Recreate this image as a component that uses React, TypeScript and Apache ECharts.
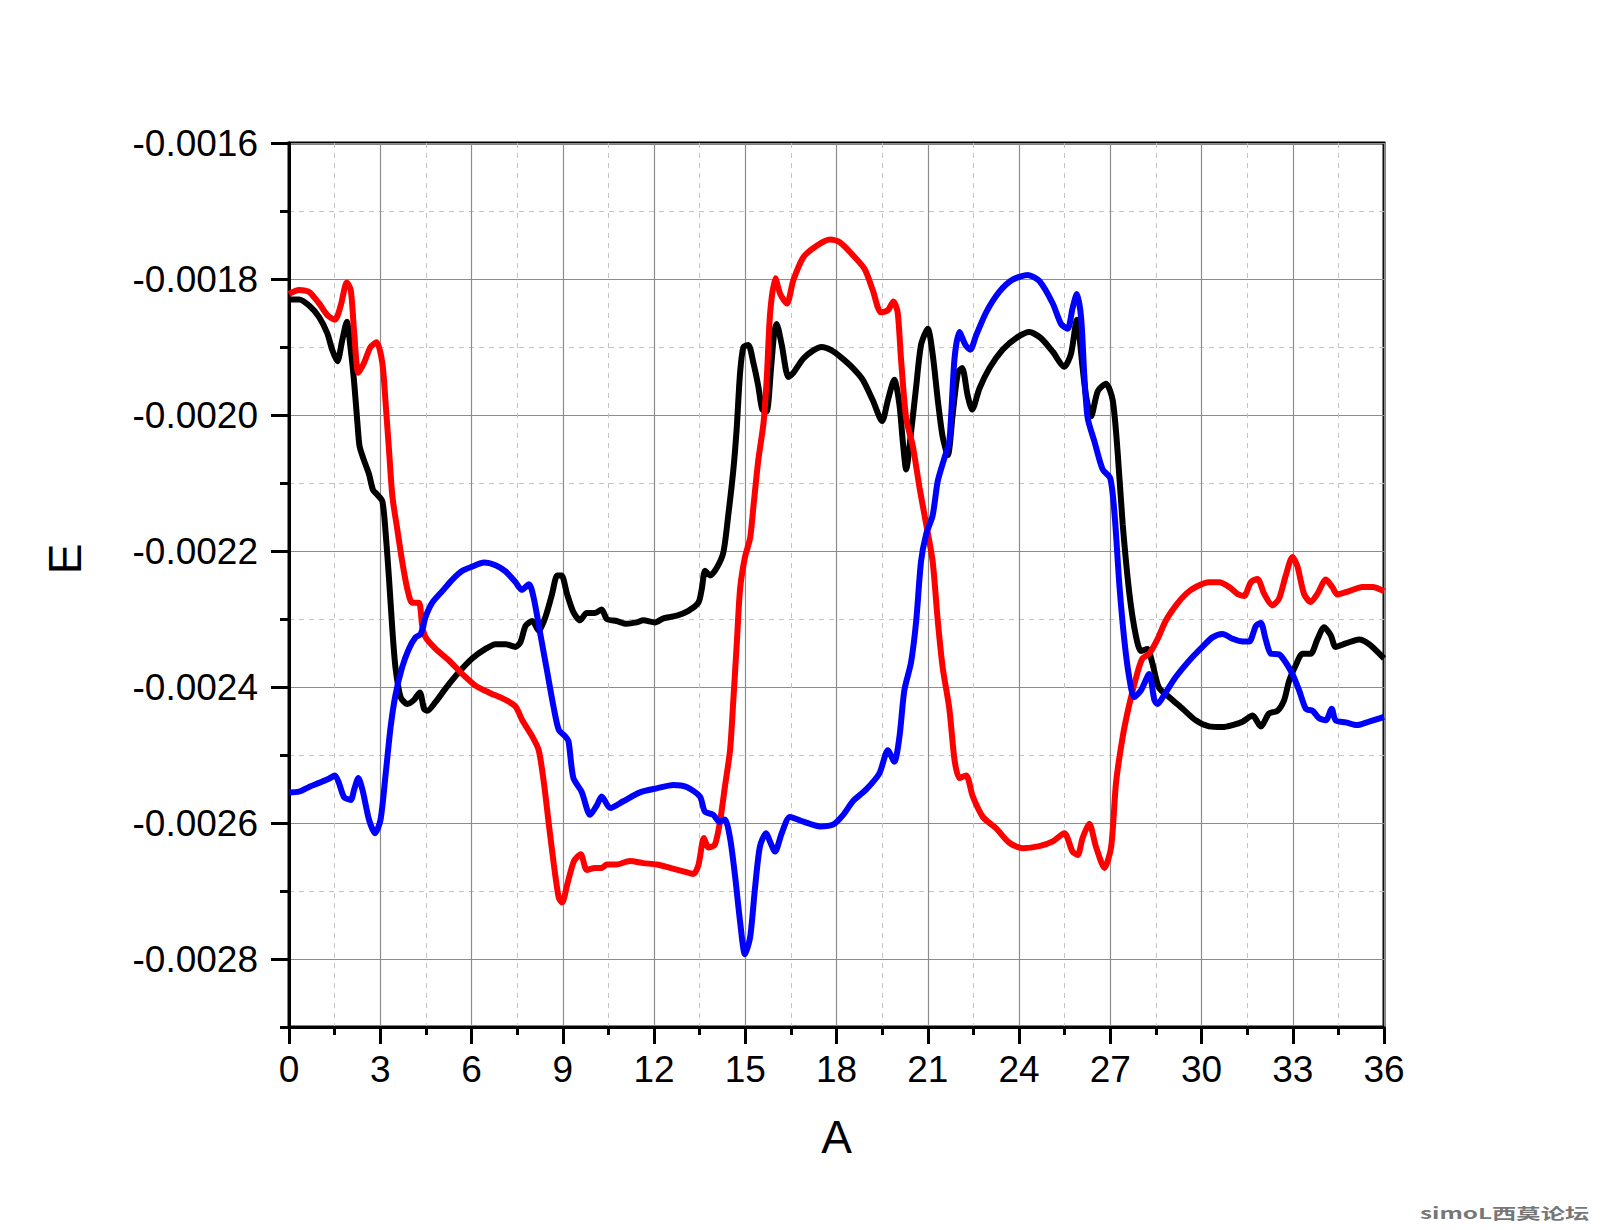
import React, { useEffect, useRef } from 'react';
import * as echarts from 'echarts';

// ---- axis ticks ----
const xMin = 0;
const xMax = 36;
const xStep = 3;
const yMin = -0.0029;
const yMax = -0.0016;
const yMinorStep = 0.0001;
// major y ticks counted from the top on an auxiliary inverse axis (0 = -0.0016, step 2 = 0.0002)
const yMajorIdx = [0, 2, 4, 6, 8, 10, 12];

// ---- series: black ----
const blackA = [0, 0.33, 0.66, 0.99, 1.26, 1.42, 1.59, 1.75, 1.9, 2.03, 2.14, 2.25, 2.32, 2.46, 2.63, 2.76, 2.9, 3.07, 3.18, 3.29, 3.4, 3.5, 3.67, 3.89, 4.11, 4.3, 4.44, 4.55, 4.82, 5.15, 5.59, 6.02, 6.46, 6.79, 7.12, 7.45, 7.61, 7.78, 8.0, 8.21, 8.43, 8.65, 8.82, 8.96, 9.14, 9.35, 9.57, 9.79, 10.06, 10.28, 10.45, 10.77, 11.1, 11.43, 11.65, 12.03, 12.31, 12.75, 13.13, 13.46, 13.57, 13.68, 13.84, 14.06, 14.28, 14.44, 14.61, 14.72, 14.83, 14.94, 15.1, 15.27, 15.43, 15.56, 15.7, 15.85, 15.95, 16.03, 16.2, 16.42, 16.58, 16.91, 17.24, 17.51, 17.84, 18.17, 18.54, 18.86, 19.19, 19.5, 19.69, 19.9, 20.07, 20.18, 20.29, 20.45, 20.62, 20.78, 21.0, 21.16, 21.33, 21.49, 21.66, 21.82, 21.99, 22.13, 22.31, 22.46, 22.7, 23.03, 23.46, 23.9, 24.34, 24.72, 25.11, 25.49, 25.71, 25.9, 26.09, 26.2, 26.37, 26.59, 26.86, 27.08, 27.24, 27.41, 27.63, 27.84, 28.01, 28.22, 28.38, 28.6, 28.94, 29.38, 29.81, 30.25, 30.69, 31.02, 31.35, 31.68, 31.95, 32.22, 32.5, 32.72, 32.88, 33.1, 33.32, 33.59, 33.81, 34.03, 34.25, 34.41, 34.74, 35.18, 35.51, 36.0];
const blackE = [-0.00183, -0.00183, -0.001839, -0.001856, -0.00188, -0.001904, -0.001921, -0.00189, -0.001863, -0.001904, -0.001951, -0.002012, -0.002046, -0.002066, -0.002087, -0.00211, -0.002117, -0.002127, -0.002175, -0.002242, -0.002317, -0.002371, -0.002415, -0.002425, -0.002419, -0.002408, -0.002432, -0.002435, -0.002422, -0.002402, -0.002378, -0.002358, -0.002344, -0.002337, -0.002337, -0.002341, -0.002334, -0.00231, -0.002303, -0.002317, -0.002297, -0.002263, -0.002236, -0.002236, -0.002263, -0.00229, -0.002302, -0.002291, -0.002291, -0.002286, -0.0023, -0.002303, -0.002307, -0.002305, -0.002302, -0.002305, -0.002299, -0.002295, -0.002288, -0.002276, -0.002256, -0.002229, -0.002236, -0.002225, -0.002202, -0.002148, -0.00208, -0.002019, -0.001938, -0.0019, -0.001897, -0.001924, -0.001958, -0.001992, -0.001995, -0.00193, -0.00188, -0.001866, -0.001897, -0.001944, -0.001938, -0.001917, -0.001905, -0.0019, -0.001905, -0.001916, -0.001931, -0.001948, -0.001978, -0.002009, -0.001978, -0.001948, -0.001985, -0.002039, -0.00208, -0.002026, -0.001958, -0.001897, -0.001873, -0.00191, -0.001978, -0.002032, -0.002059, -0.001999, -0.001938, -0.001931, -0.001971, -0.001992, -0.001961, -0.001931, -0.001904, -0.001887, -0.001878, -0.001887, -0.001907, -0.001929, -0.00191, -0.00186, -0.00193, -0.001971, -0.002002, -0.001965, -0.001954, -0.001978, -0.002053, -0.002161, -0.002263, -0.002324, -0.002347, -0.002344, -0.002364, -0.002401, -0.002415, -0.002432, -0.002449, -0.002458, -0.002459, -0.002456, -0.002451, -0.002442, -0.002458, -0.002439, -0.002435, -0.002419, -0.002391, -0.002368, -0.002351, -0.002351, -0.00233, -0.002312, -0.002324, -0.002341, -0.002336, -0.00233, -0.002337, -0.002358];

// ---- series: red ----
const redA = [0, 0.33, 0.66, 0.99, 1.26, 1.51, 1.7, 1.9, 2.03, 2.14, 2.28, 2.46, 2.68, 2.88, 3.07, 3.18, 3.29, 3.4, 3.56, 3.72, 3.89, 4.05, 4.27, 4.38, 4.49, 4.82, 5.26, 5.7, 6.13, 6.57, 7.12, 7.45, 7.67, 8.0, 8.21, 8.38, 8.54, 8.71, 8.87, 8.98, 9.15, 9.37, 9.59, 9.79, 10.06, 10.28, 10.45, 10.77, 11.21, 11.65, 12.09, 12.53, 12.96, 13.29, 13.46, 13.64, 13.79, 14.0, 14.17, 14.33, 14.5, 14.61, 14.72, 14.83, 14.99, 15.16, 15.27, 15.43, 15.6, 15.71, 15.82, 15.99, 16.15, 16.37, 16.58, 16.91, 17.35, 17.79, 18.11, 18.54, 18.92, 19.19, 19.46, 19.69, 19.87, 20.01, 20.12, 20.29, 20.51, 20.73, 20.95, 21.16, 21.33, 21.49, 21.71, 21.88, 22.04, 22.26, 22.48, 22.81, 23.25, 23.68, 24.12, 24.67, 25.11, 25.49, 25.76, 25.93, 26.09, 26.31, 26.53, 26.81, 27.03, 27.19, 27.41, 27.63, 27.9, 28.06, 28.28, 28.55, 28.82, 29.16, 29.49, 29.81, 30.25, 30.58, 30.91, 31.18, 31.4, 31.62, 31.84, 32.06, 32.33, 32.55, 32.77, 32.99, 33.15, 33.37, 33.59, 33.81, 34.09, 34.3, 34.47, 34.85, 35.29, 35.62, 36.0];
const redE = [-0.001822, -0.001816, -0.001819, -0.001836, -0.001853, -0.00186, -0.001839, -0.001805, -0.001816, -0.001877, -0.001938, -0.001924, -0.0019, -0.001893, -0.001924, -0.001985, -0.002053, -0.00212, -0.002168, -0.002215, -0.002256, -0.002276, -0.002276, -0.00231, -0.002327, -0.002344, -0.002361, -0.002381, -0.002398, -0.002408, -0.002419, -0.002429, -0.002449, -0.002473, -0.002493, -0.002541, -0.002601, -0.002662, -0.00271, -0.002717, -0.00269, -0.002656, -0.002646, -0.002669, -0.002666, -0.002666, -0.002661, -0.002661, -0.002656, -0.002659, -0.002661, -0.002666, -0.002671, -0.002675, -0.002662, -0.002622, -0.002636, -0.002632, -0.002598, -0.002547, -0.002493, -0.002418, -0.002337, -0.002256, -0.002209, -0.002181, -0.002134, -0.002066, -0.002012, -0.001944, -0.001849, -0.001799, -0.001822, -0.001836, -0.001802, -0.001768, -0.001751, -0.001742, -0.001746, -0.001765, -0.001785, -0.001816, -0.001849, -0.001846, -0.001833, -0.001849, -0.001917, -0.002005, -0.002046, -0.002107, -0.002161, -0.002215, -0.002303, -0.002371, -0.002432, -0.002507, -0.002534, -0.00253, -0.002561, -0.002591, -0.002608, -0.002629, -0.002637, -0.002634, -0.002627, -0.002615, -0.002642, -0.002647, -0.002622, -0.002601, -0.002635, -0.002666, -0.002635, -0.002541, -0.002473, -0.002425, -0.002378, -0.002358, -0.002351, -0.00233, -0.002303, -0.00228, -0.002263, -0.002253, -0.002246, -0.002246, -0.002253, -0.002263, -0.002266, -0.002246, -0.002241, -0.002263, -0.00228, -0.00227, -0.002236, -0.002209, -0.002222, -0.002263, -0.002275, -0.002263, -0.002242, -0.002253, -0.002264, -0.002259, -0.002253, -0.002253, -0.002259];

// ---- series: blue ----
const blueA = [0, 0.33, 0.66, 0.99, 1.31, 1.51, 1.64, 1.81, 2.03, 2.14, 2.28, 2.43, 2.63, 2.83, 3.01, 3.18, 3.34, 3.5, 3.72, 3.94, 4.16, 4.33, 4.49, 4.71, 5.04, 5.37, 5.7, 6.02, 6.41, 6.79, 7.12, 7.45, 7.65, 7.89, 8.05, 8.27, 8.49, 8.71, 8.87, 9.09, 9.19, 9.35, 9.62, 9.9, 10.12, 10.28, 10.56, 10.99, 11.54, 12.09, 12.64, 13.07, 13.51, 13.67, 13.95, 14.15, 14.33, 14.5, 14.66, 14.83, 14.99, 15.16, 15.32, 15.48, 15.68, 15.82, 15.98, 16.2, 16.47, 16.91, 17.46, 17.9, 18.22, 18.54, 18.97, 19.41, 19.69, 19.9, 20.07, 20.23, 20.45, 20.62, 20.78, 20.95, 21.16, 21.33, 21.55, 21.71, 21.88, 22.04, 22.24, 22.4, 22.59, 22.92, 23.35, 23.79, 24.29, 24.67, 25.11, 25.38, 25.6, 25.76, 25.9, 26.04, 26.15, 26.26, 26.48, 26.75, 27.0, 27.14, 27.3, 27.46, 27.62, 27.79, 28.01, 28.28, 28.45, 28.55, 28.82, 29.16, 29.6, 30.03, 30.36, 30.69, 31.02, 31.35, 31.57, 31.79, 31.95, 32.11, 32.28, 32.55, 32.77, 32.99, 33.21, 33.43, 33.65, 33.87, 34.09, 34.28, 34.41, 34.74, 35.12, 35.51, 36.0];
const blueE = [-0.002555, -0.002554, -0.002547, -0.002541, -0.002535, -0.00253, -0.002541, -0.002562, -0.002566, -0.002551, -0.002534, -0.002554, -0.002595, -0.002615, -0.002595, -0.002527, -0.002459, -0.002412, -0.002371, -0.002344, -0.002327, -0.002322, -0.002297, -0.002276, -0.002259, -0.002242, -0.002229, -0.002223, -0.002217, -0.002221, -0.00223, -0.002246, -0.002257, -0.002249, -0.00227, -0.002324, -0.002378, -0.002432, -0.002463, -0.002473, -0.00248, -0.002534, -0.002554, -0.002588, -0.002574, -0.002561, -0.002578, -0.002568, -0.002555, -0.002549, -0.002544, -0.002547, -0.002561, -0.002583, -0.002588, -0.002598, -0.002595, -0.002622, -0.002676, -0.002745, -0.002793, -0.002768, -0.002696, -0.002635, -0.002615, -0.002628, -0.002642, -0.002615, -0.002591, -0.002598, -0.002605, -0.002602, -0.002588, -0.002568, -0.002551, -0.002527, -0.002493, -0.00251, -0.002473, -0.002405, -0.002364, -0.002303, -0.002215, -0.002175, -0.002148, -0.002097, -0.002063, -0.002039, -0.001917, -0.001878, -0.001897, -0.001904, -0.001883, -0.001849, -0.001819, -0.001801, -0.001794, -0.001803, -0.001836, -0.001866, -0.001873, -0.001843, -0.001822, -0.001856, -0.001944, -0.002005, -0.002039, -0.00208, -0.002093, -0.002145, -0.00225, -0.00233, -0.002385, -0.002415, -0.002405, -0.002381, -0.002419, -0.002425, -0.002408, -0.002385, -0.002361, -0.002341, -0.002327, -0.002322, -0.002329, -0.002333, -0.002333, -0.00231, -0.002306, -0.00233, -0.002351, -0.002352, -0.002364, -0.002381, -0.002405, -0.002432, -0.002435, -0.002446, -0.002449, -0.002432, -0.002449, -0.002452, -0.002456, -0.002451, -0.002444];

const seriesColors = ['#000000', '#ff0000', '#0000ff'];

const pairs = (a: number[], e: number[]) => a.map((x, i) => [x, e[i]]);

const FONT = '"Liberation Sans", Arial, sans-serif';

export default function App() {
  const ref = useRef<HTMLDivElement>(null);
  useEffect(() => {
    if (!ref.current) return;
    const chart = echarts.init(ref.current, null, { renderer: 'svg' });
    const mkSeries = (name: string, a: number[], e: number[], color: string, z: number) => ({
      name,
      type: 'line',
      data: pairs(a, e),
      xAxisIndex: 0,
      yAxisIndex: 0,
      showSymbol: false,
      smooth: 0.25,
      z,
      lineStyle: { color, width: 6 },
      itemStyle: { color },
    });
    chart.setOption({
      animation: false,
      backgroundColor: '#ffffff',
      grid: {
        left: 289,
        right: 224,
        top: 143,
        bottom: 203,
        show: true,
        borderColor: '#000',
        borderWidth: 3,
        backgroundColor: 'transparent',
        containLabel: false,
        outerBoundsMode: 'none',
      },
      xAxis: {
        type: 'value',
        min: xMin,
        max: xMax,
        interval: xStep,
        name: 'A',
        nameLocation: 'middle',
        nameGap: 87,
        nameTextStyle: { fontSize: 46, fontFamily: FONT, color: '#000' },
        axisLine: { show: true, onZero: false, lineStyle: { color: '#000', width: 3 } },
        axisTick: { show: true, inside: false, length: 17, lineStyle: { color: '#000', width: 3 } },
        minorTick: { show: true, splitNumber: 2, length: 8, lineStyle: { color: '#000', width: 3 } },
        axisLabel: { fontSize: 37, fontFamily: FONT, color: '#000', margin: 24 },
        splitLine: { show: true, lineStyle: { color: '#8c8c8c', width: 1.2, type: 'solid' } },
        minorSplitLine: { show: true, lineStyle: { color: '#c4c4c4', width: 1, type: [5, 5] } },
      },
      yAxis: [
        {
          type: 'value',
          min: yMin,
          max: yMax,
          interval: yMinorStep,
          position: 'left',
          name: 'E',
          nameLocation: 'middle',
          nameRotate: 90,
          nameGap: 201,
          nameTextStyle: { fontSize: 46, fontFamily: FONT, color: '#000', padding: [0, 0, 0, 52] },
          axisLine: { show: true, onZero: false, lineStyle: { color: '#000', width: 3 } },
          axisTick: { show: true, inside: false, length: 9, lineStyle: { color: '#000', width: 3 } },
          axisLabel: {
            fontSize: 37,
            fontFamily: FONT,
            color: '#000',
            margin: 31,
            formatter: (v: number) => {
              const k = Math.round(v * 1e4);
              return k % 2 === 0 ? v.toFixed(4) : '';
            },
          },
          splitLine: { show: true, lineStyle: { color: '#c4c4c4', width: 1, type: [5, 5] } },
        },
        {
          type: 'value',
          inverse: true,
          min: 0,
          max: 13,
          interval: 2,
          position: 'left',
          axisLine: { show: false },
          axisTick: { show: true, inside: false, length: 18, customValues: yMajorIdx, lineStyle: { color: '#000', width: 3 } },
          axisLabel: { show: false },
          splitLine: { show: true, lineStyle: { color: '#8c8c8c', width: 1.2, type: 'solid' } },
        },
      ],
      graphic: [
        {
          type: 'text',
          x: 1420,
          y: 1213,
          scaleX: 1.62,
          style: {
            text: 'simoL西莫论坛',
            fill: '#777777',
            align: 'left',
            verticalAlign: 'middle',
            font: 'bold 15px "Noto Sans CJK SC", sans-serif',
          },
        },
      ],
      series: [
        mkSeries('black', blackA, blackE, seriesColors[0], 2),
        mkSeries('red', redA, redE, seriesColors[1], 3),
        mkSeries('blue', blueA, blueE, seriesColors[2], 4),
      ],
    });
    return () => chart.dispose();
  }, []);
  return (
    <div
      ref={ref}
      style={{ position: 'fixed', left: 0, top: 0, width: 1608, height: 1230, background: '#fff' }}
    />
  );
}
